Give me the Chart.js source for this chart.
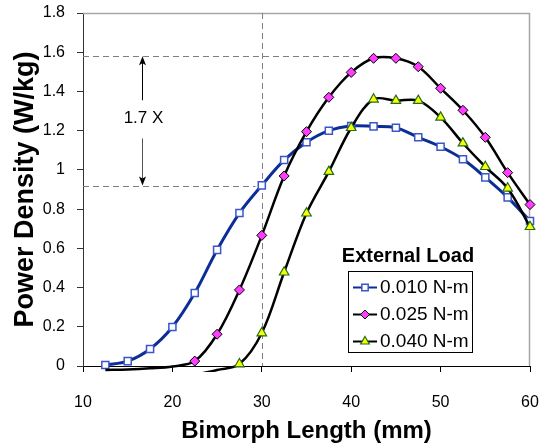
<!DOCTYPE html>
<html><head><meta charset="utf-8">
<script src="https://cdn.jsdelivr.net/npm/chart.js@4/dist/chart.umd.min.js"></script>
<style>html,body{margin:0;padding:0;background:#fff}#wrap{width:542px;height:448px;position:relative}</style>
</head><body><div id="wrap"><canvas id="c" width="542" height="448"></canvas></div>
<script>
// ---- data ----
const lengths = [12.5,15,17.5,20,22.5,25,27.5,30,32.5,35,37.5,40,42.5,45,47.5,50,52.5,55,57.5,60];
const load010 = [0.005,0.025,0.087,0.199,0.372,0.592,0.780,0.921,1.050,1.141,1.200,1.224,1.222,1.215,1.166,1.118,1.054,0.962,0.860,0.739];
const load025 = [-0.02,-0.018,-0.012,-0.002,0.025,0.162,0.388,0.666,0.969,1.195,1.370,1.497,1.569,1.569,1.526,1.416,1.304,1.166,0.986,0.823];
const load040 = [null,null,null,null,-0.045,-0.02,0.010,0.168,0.478,0.779,0.991,1.215,1.360,1.353,1.353,1.268,1.136,1.016,0.906,0.710];
const seriesNames = ['0.010 N-m','0.025 N-m','0.040 N-m'];
const legendTitle = 'External Load';
const xTickValues = [10,20,30,40,50,60];
const yTickValues = [0,0.2,0.4,0.6,0.8,1,1.2,1.4,1.6,1.8];
const yTickLabels = ['0','0.2','0.4','0.6','0.8','1','1.2','1.4','1.6','1.8'];
const xTitle = 'Bimorph Length (mm)';
const yTitle = 'Power Density (W/kg)';
// annotation values (data units)
const refX = 30, refHigh = 1.58, refLow = 0.92, refHighEnd = 41.2, refLowEnd = 29.3;
const ratioLabel = '1.7 X', arrowX = 16.55, arrowGapTop = 1.355, arrowGapBottom = 1.16, ratioLabelY = 1.265;

const FONT = "'Liberation Sans', Arial, sans-serif";
const toPts = arr => lengths.map((x,i)=>({x, y: arr[i]}));
const radiusFor = (arr, r) => arr.map(v => (v === null || v < 0) ? 0 : r);

const styles = [
  {line:'#0c2c96', width:3, style:'rect', r:5, bg:'#ffffff', bc:'#3a56c8', bw:1.5},
  {line:'#000000', width:2.5, style:'rectRot', r:5, bg:'#ff3cff', bc:'#000000', bw:1},
  {line:'#000000', width:2.5, style:'triangle', r:5.5, bg:'#ffff00', bc:'#1e6e1e', bw:1.2}
];
const series = [load010, load025, load040];

const datasets = series.map((arr,i)=>({
  label: seriesNames[i],
  data: toPts(arr),
  borderColor: styles[i].line,
  borderWidth: styles[i].width,
  pointStyle: styles[i].style,
  pointRadius: radiusFor(arr, styles[i].r),
  pointBackgroundColor: styles[i].bg,
  pointBorderColor: styles[i].bc,
  pointBorderWidth: styles[i].bw,
  tension: 0.35,
  fill: false,
  spanGaps: false,
  clip: {left: 8, right: 8, top: 8, bottom: 6},
  order: 3 - i
}));

const deco = {
  id: 'deco',
  beforeDatasetsDraw(chart){
    const {ctx, chartArea:a, scales:{x, y}} = chart;
    ctx.save();
    ctx.strokeStyle = '#a6a6a6'; ctx.lineWidth = 1.5;
    ctx.beginPath();
    ctx.moveTo(a.left, a.top + 0.5); ctx.lineTo(a.right - 0.5, a.top + 0.5); ctx.lineTo(a.right - 0.5, a.bottom);
    ctx.stroke();
    ctx.strokeStyle = '#7f7f7f'; ctx.lineWidth = 1; ctx.setLineDash([6,4]);
    const vx = Math.round(x.getPixelForValue(refX)) + 0.5;
    ctx.beginPath(); ctx.moveTo(vx, a.top); ctx.lineTo(vx, a.bottom); ctx.stroke();
    const hy = Math.round(y.getPixelForValue(refHigh)) + 0.5;
    ctx.beginPath(); ctx.moveTo(a.left, hy); ctx.lineTo(x.getPixelForValue(refHighEnd), hy); ctx.stroke();
    const ly = Math.round(y.getPixelForValue(refLow)) + 0.5;
    ctx.beginPath(); ctx.moveTo(a.left, ly); ctx.lineTo(x.getPixelForValue(refLowEnd), ly); ctx.stroke();
    ctx.setLineDash([]);
    const ax = Math.round(x.getPixelForValue(arrowX)) + 0.5;
    ctx.strokeStyle = '#000'; ctx.fillStyle = '#000'; ctx.lineWidth = 1;
    const tTop = y.getPixelForValue(refHigh), gTop = y.getPixelForValue(arrowGapTop);
    const gBot = y.getPixelForValue(arrowGapBottom), tBot = y.getPixelForValue(refLow);
    ctx.beginPath(); ctx.moveTo(ax, tTop + 6); ctx.lineTo(ax, gTop); ctx.stroke();
    ctx.beginPath(); ctx.moveTo(ax, tTop); ctx.lineTo(ax - 3.5, tTop + 9); ctx.lineTo(ax, tTop + 7); ctx.lineTo(ax + 3.5, tTop + 9); ctx.closePath(); ctx.fill();
    ctx.strokeStyle = '#555';
    ctx.beginPath(); ctx.moveTo(ax, gBot); ctx.lineTo(ax, tBot - 6); ctx.stroke();
    ctx.fillStyle = '#000';
    ctx.beginPath(); ctx.moveTo(ax, tBot); ctx.lineTo(ax - 3.5, tBot - 9); ctx.lineTo(ax, tBot - 7); ctx.lineTo(ax + 3.5, tBot - 9); ctx.closePath(); ctx.fill();
    ctx.font = '17px ' + FONT; ctx.textAlign = 'center'; ctx.textBaseline = 'middle'; ctx.fillStyle = '#000';
    ctx.fillText(ratioLabel, ax + 1, y.getPixelForValue(ratioLabelY));
    ctx.restore();
  },
  afterDraw(chart){
    const {ctx} = chart;
    ctx.save();
    ctx.fillStyle = '#000';
    ctx.font = 'bold 20px ' + FONT; ctx.textAlign = 'center'; ctx.textBaseline = 'middle';
    ctx.fillText(legendTitle, 408, 256);
    ctx.fillStyle = '#fff';
    ctx.fillRect(348, 271, 124, 81);
    ctx.strokeStyle = '#000'; ctx.lineWidth = 1;
    ctx.strokeRect(348.5, 271.5, 124, 81);
    const rows = [287, 314, 341];
    chart.data.datasets.forEach((ds, i) => {
      const yy = rows[i];
      ctx.strokeStyle = ds.borderColor; ctx.lineWidth = 2;
      ctx.beginPath(); ctx.moveTo(353, yy + 0.5); ctx.lineTo(377, yy + 0.5); ctx.stroke();
      ctx.fillStyle = ds.pointBackgroundColor; ctx.strokeStyle = ds.pointBorderColor; ctx.lineWidth = ds.pointBorderWidth;
      Chart.helpers.drawPoint(ctx, {pointStyle: ds.pointStyle, radius: styles[i].r - 0.5, borderWidth: ds.pointBorderWidth}, 365, yy + 0.5);
      ctx.fillStyle = '#000';
      ctx.font = '19px ' + FONT; ctx.textAlign = 'left'; ctx.textBaseline = 'middle';
      ctx.fillText(ds.label, 380, yy + 1);
    });
    ctx.restore();
  }
};

new Chart(document.getElementById('c'), {
  type: 'line',
  data: { datasets },
  options: {
    responsive: false, animation: false, devicePixelRatio: 1,
    layout: { padding: { top: 13, right: 12, left: 0, bottom: 0 } },
    plugins: { legend: { display: false }, tooltip: { enabled: false } },
    scales: {
      x: {
        type: 'linear', min: 10, max: 60,
        afterBuildTicks: s => { s.ticks = xTickValues.map(v => ({value: v})); },
        afterFit: s => { s.height = 82; s.paddingLeft = 0; s.paddingRight = 0; },
        grid: { drawOnChartArea: false, drawTicks: true, tickLength: 6, color: '#000' },
        border: { display: true, color: '#000', width: 1 },
        ticks: { color: '#000', font: { family: FONT, size: 16 }, padding: 21, maxRotation: 0 },
        title: { display: true, text: xTitle, color: '#000', font: { family: FONT, size: 24, weight: 'bold' }, padding: { top: 0, bottom: 2 } }
      },
      y: {
        type: 'linear', min: 0, max: 1.8,
        afterBuildTicks: s => { s.ticks = yTickValues.map(v => ({value: v})); },
        afterFit: s => { s.width = 83; s.paddingTop = 0; s.paddingBottom = 0; },
        grid: { drawOnChartArea: false, drawTicks: true, tickLength: 6, color: '#333' },
        border: { display: true, color: '#333', width: 1 },
        ticks: { color: '#000', font: { family: FONT, size: 16 }, padding: 12,
          callback: (v, i) => yTickLabels[i] },
        title: { display: true, text: yTitle, color: '#000', font: { family: FONT, size: 27, weight: 'bold' }, padding: { top: 9, bottom: 0 } }
      }
    }
  },
  plugins: [deco]
});
</script></body></html>
